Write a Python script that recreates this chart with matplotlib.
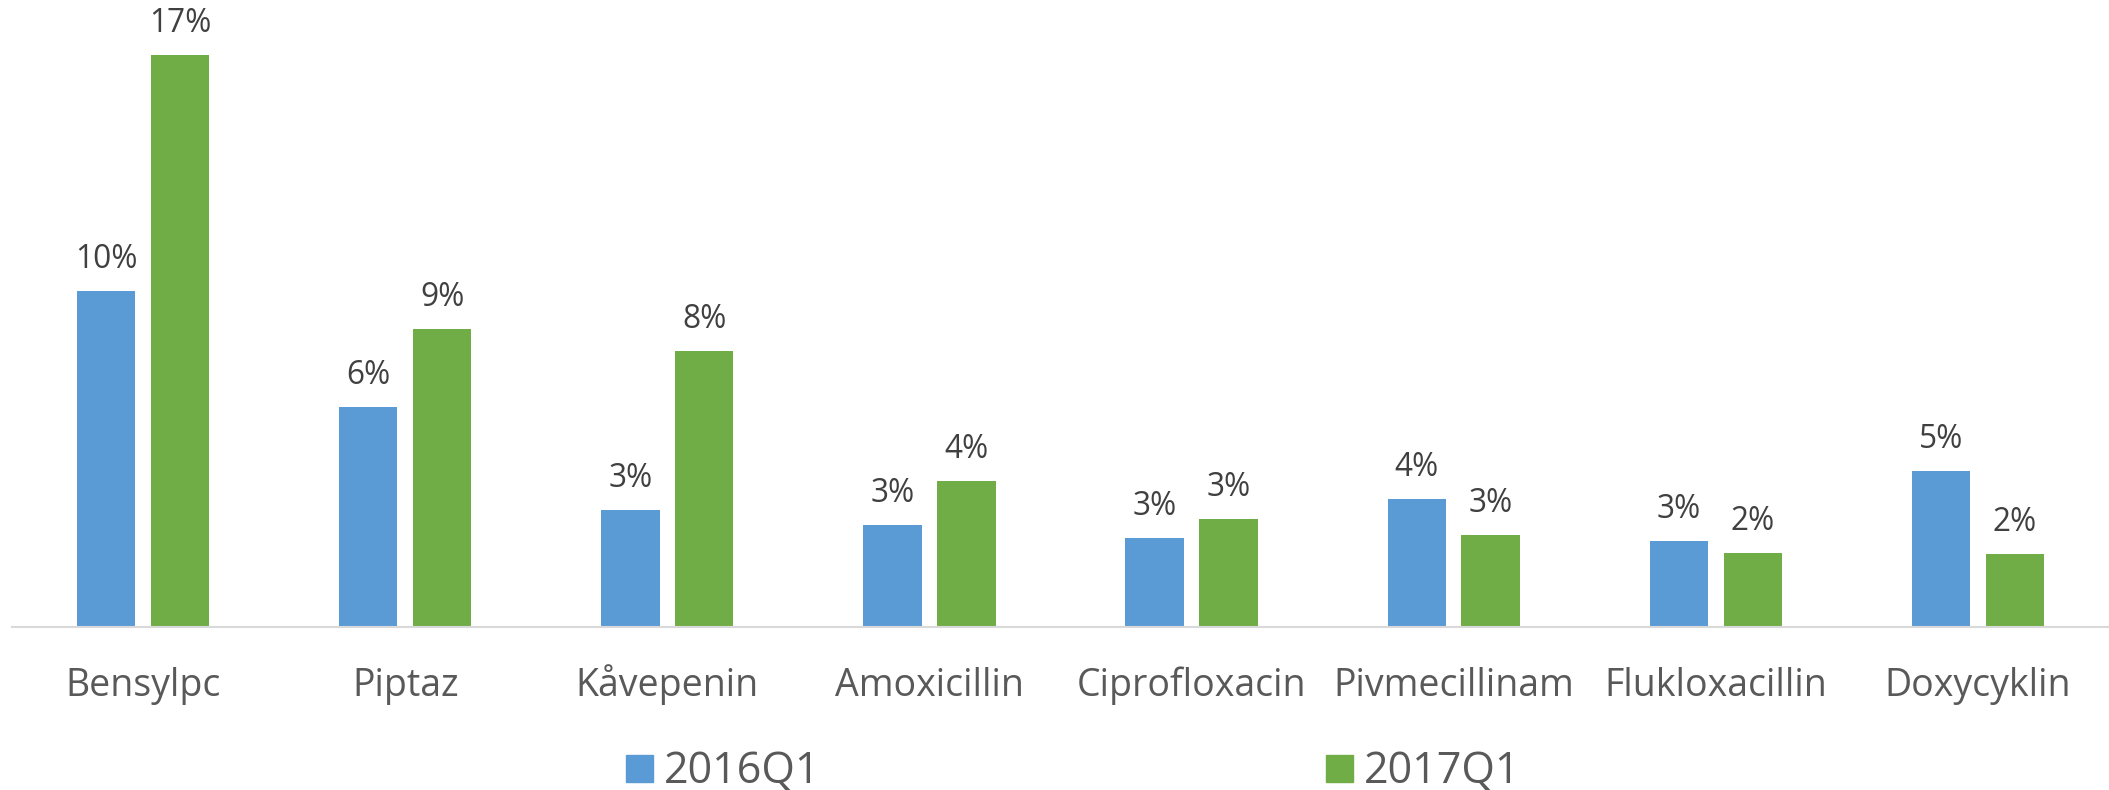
import matplotlib.pyplot as plt
import numpy as np

# values (percent)
categories = ['Bensylpc', 'Piptaz', 'Kåvepenin', 'Amoxicillin', 'Ciprofloxacin',
              'Pivmecillinam', 'Flukloxacillin', 'Doxycyklin']
series_names = ['2016Q1', '2017Q1']
q1_2016 = [9.86, 6.45, 3.45, 2.99, 2.61, 3.76, 2.52, 4.59]
q1_2017 = [16.81, 8.75, 8.10, 4.30, 3.16, 2.69, 2.18, 2.15]

blue = '#5B9BD5'
green = '#70AD47'
W, H = 2109, 790

plt.rcParams['font.family'] = ['Open Sans', 'DejaVu Sans']

fig = plt.figure(figsize=(W / 100, H / 100), dpi=100)
ax = fig.add_axes([12 / W, (H - 627) / H, 1 - 12 / W, 627 / H])

x = np.arange(len(categories))
width = 0.223
offset = 0.141
bars1 = ax.bar(x - offset, q1_2016, width, color=blue, label=series_names[0])
bars2 = ax.bar(x + offset, q1_2017, width, color=green, label=series_names[1])

ax.set_xlim(-0.5, len(categories) - 0.5)
ax.set_ylim(0, 627 / 34.05)

# data labels above bars
for bars, vals in [(bars1, q1_2016), (bars2, q1_2017)]:
    for b, v in zip(bars, vals):
        ax.annotate(f'{round(v)}%', xy=(b.get_x() + b.get_width() / 2, v),
                    xytext=(0, 16.5), textcoords='offset points',
                    ha='center', va='baseline', fontsize=22.8, color='#404040')

# category labels under the axis
for i, name in enumerate(categories):
    ax.annotate(name, xy=(i, 0), xycoords=('data', 'axes fraction'),
                xytext=(0, -49.7), textcoords='offset points',
                ha='center', va='baseline', fontsize=27, color='#595959')

for s in ['top', 'right', 'left']:
    ax.spines[s].set_visible(False)
ax.spines['bottom'].set_color('#D9D9D9')
ax.spines['bottom'].set_linewidth(1.5)
ax.set_xticks([])
ax.set_yticks([])

# legend drawn by hand: square + label
legend_items = [(series_names[0], blue, 626), (series_names[1], green, 1326)]
for name, col, px in legend_items:
    fig.add_artist(plt.Rectangle((px / W, (H - 782) / H), 27 / W, 27 / H,
                                 transform=fig.transFigure, color=col))
    fig.text((px + 38) / W, (H - 783) / H, name, fontsize=31,
             color='#595959', va='baseline', ha='left')

fig.savefig('out.png', dpi=100)
